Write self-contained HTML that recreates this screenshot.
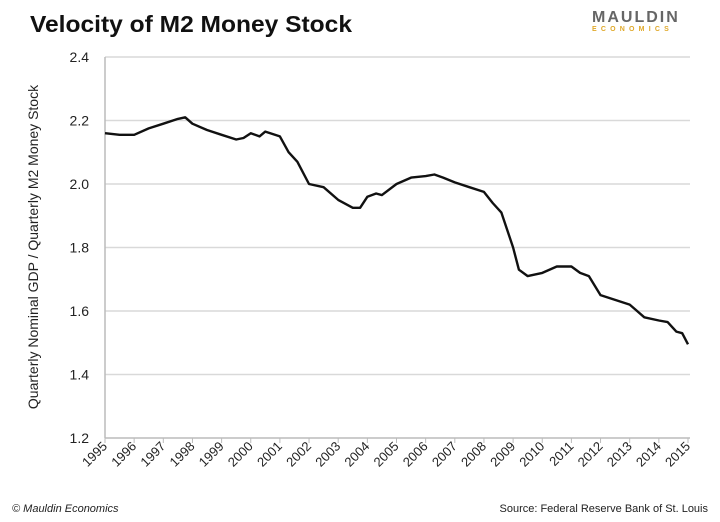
<!DOCTYPE html>
<html><head><meta charset="utf-8"><style>
body{margin:0;background:#fff;font-family:"Liberation Sans",sans-serif}
#wrap{position:relative;width:720px;height:522px;overflow:hidden}
</style></head><body>
<div id="wrap">
<svg id="chart" width="720" height="522">
<text x="30" y="32" font-size="23" font-weight="bold" fill="#111" textLength="322" lengthAdjust="spacingAndGlyphs">Velocity of M2 Money Stock</text>
<g>
<text x="592" y="22" font-size="16" fill="#666" letter-spacing="2" font-weight="bold">MAULDIN</text>
<text x="592" y="31" font-size="7" fill="#e0a92a" letter-spacing="4.2" font-weight="bold">ECONOMICS</text>
</g>
<text transform="translate(38,247) rotate(-90)" text-anchor="middle" font-size="14" fill="#222">Quarterly Nominal GDP / Quarterly M2 Money Stock</text>
<g id="grid"></g><g id="axes"></g><g id="plot"></g>
<text x="12" y="512" font-size="11" font-style="italic" fill="#222">© Mauldin Economics</text>
<text x="708" y="512" font-size="11" text-anchor="end" fill="#222">Source: Federal Reserve Bank of St. Louis</text>
</svg>
</div>
<script>
const yearsX = [1995,1995.5,1996,1996.5,1997,1997.5,1997.75,1998,1998.5,1999,1999.5,1999.75,2000,2000.3,2000.5,2001,2001.3,2001.6,2002,2002.5,2003,2003.5,2003.75,2004,2004.3,2004.5,2005,2005.5,2006,2006.3,2006.6,2007,2007.5,2008,2008.3,2008.6,2009,2009.2,2009.5,2010,2010.5,2011,2011.3,2011.6,2012,2012.5,2013,2013.5,2014,2014.3,2014.6,2014.8,2015];
const velocity = [2.16,2.155,2.155,2.175,2.19,2.205,2.21,2.19,2.17,2.155,2.14,2.145,2.16,2.15,2.165,2.15,2.10,2.07,2.00,1.99,1.95,1.925,1.925,1.96,1.97,1.965,2.00,2.02,2.025,2.03,2.02,2.005,1.99,1.975,1.94,1.91,1.80,1.73,1.71,1.72,1.74,1.74,1.72,1.71,1.65,1.635,1.62,1.58,1.57,1.565,1.535,1.53,1.495];
const yTicks = [1.2,1.4,1.6,1.8,2.0,2.2,2.4];
const xTicks = [1995,1996,1997,1998,1999,2000,2001,2002,2003,2004,2005,2006,2007,2008,2009,2010,2011,2012,2013,2014,2015];
const NS="http://www.w3.org/2000/svg";
const L=105,R=688,T=57,B=438;
const xs=v=>L+(v-1995)/(2015-1995)*(R-L);
const ys=v=>B-(v-1.2)/(2.4-1.2)*(B-T);
function mk(tag,attrs,parent){const e=document.createElementNS(NS,tag);for(const k in attrs)e.setAttribute(k,attrs[k]);parent.appendChild(e);return e;}
const grid=document.getElementById('grid'),axes=document.getElementById('axes'),plot=document.getElementById('plot');
yTicks.forEach(t=>{
 if(t>1.2){const g=mk('line',{x1:L,x2:R+2,y1:ys(t),y2:ys(t),stroke:'#d9d9d9','stroke-width':1.5},grid);
 
 }
 const tx=mk('text',{x:L-16,y:ys(t)+5,'text-anchor':'end','font-size':14,fill:'#222'},axes);
 tx.textContent=t.toFixed(1);
 
 
});
const ya=mk('line',{x1:L,x2:L,y1:T,y2:B,stroke:'#bbb','stroke-width':1.5},axes);


const xa=mk('line',{x1:L,x2:R+2,y1:B,y2:B,stroke:'#bbb','stroke-width':1.5},axes);


xTicks.forEach(t=>{
 const x=xs(t);
 const tk=mk('line',{x1:x,x2:x,y1:B,y2:B+5,stroke:'#bbb','stroke-width':1},axes);
 
 
 const tx=mk('text',{transform:`translate(${x+3},${B+9}) rotate(-45)`,'text-anchor':'end','font-size':13,fill:'#222'},axes);
 tx.textContent=t;
 
 
});
const d=yearsX.map((y,i)=>(i?'L':'M')+xs(y).toFixed(1)+','+ys(velocity[i]).toFixed(1)).join('');
const p=mk('path',{d:d,fill:'none',stroke:'#111','stroke-width':2.4,'stroke-linejoin':'round'},plot);


</script>
</body></html>
